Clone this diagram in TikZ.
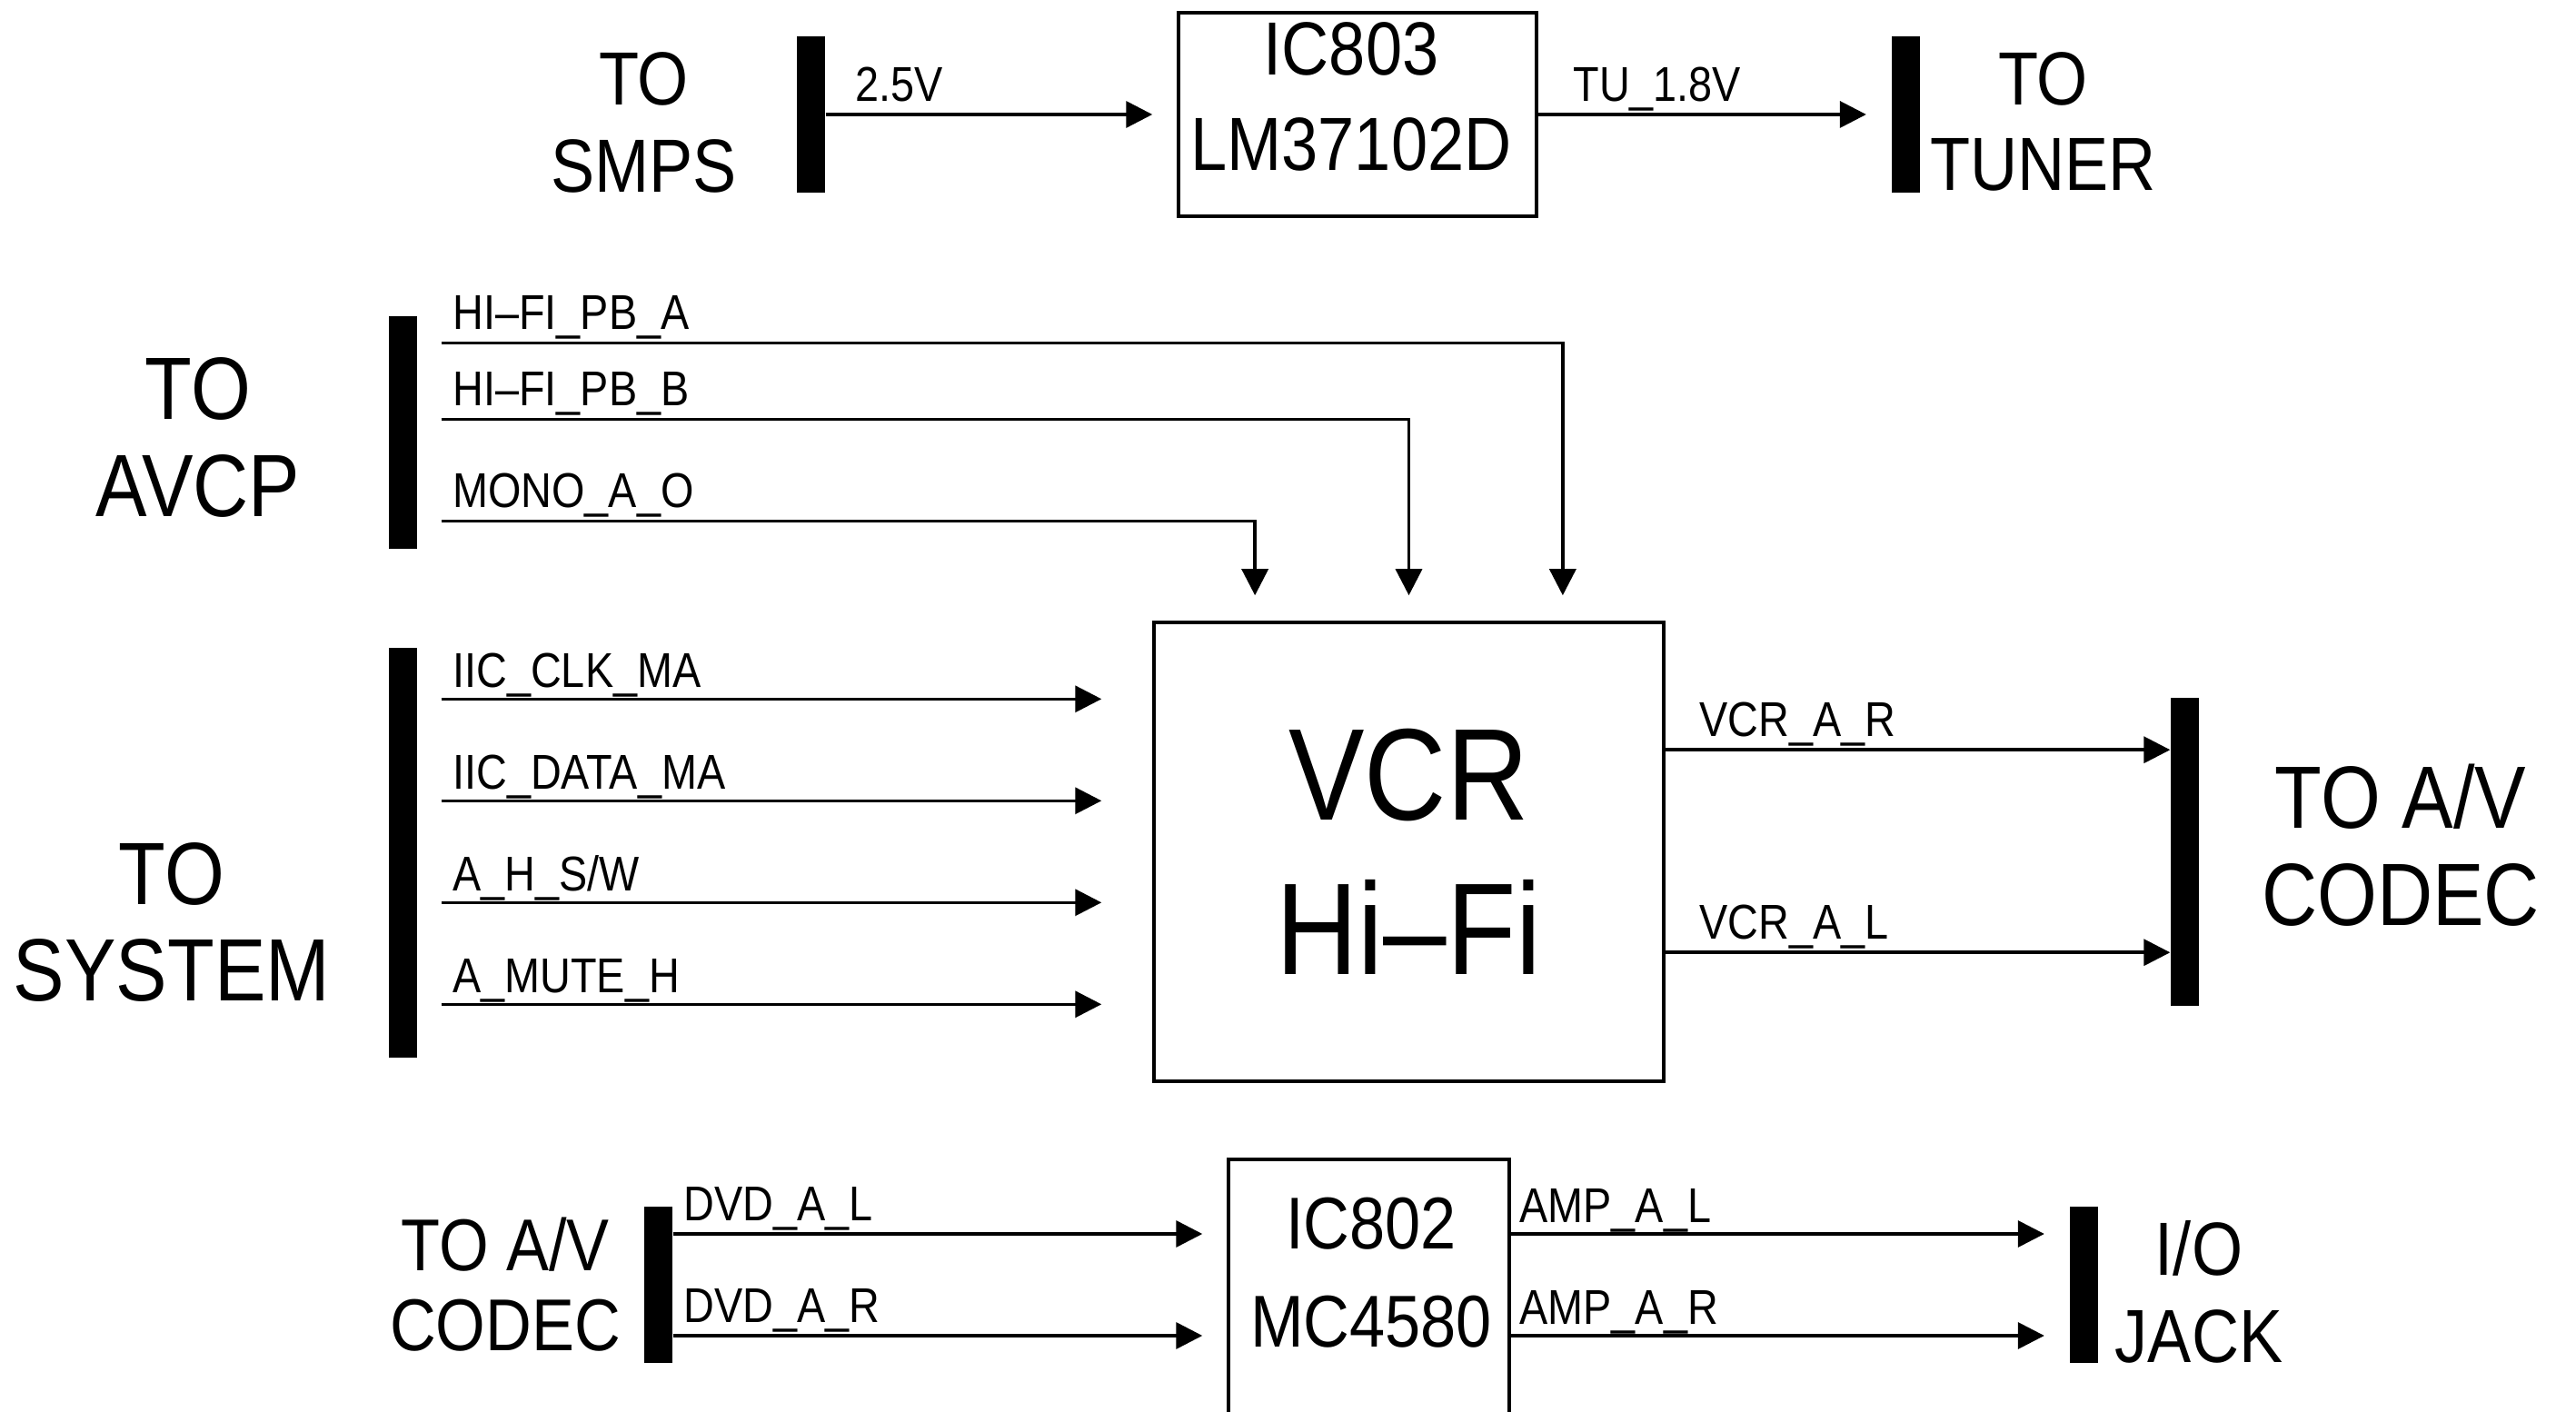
\documentclass[tikz,border=0pt]{standalone}
\usepackage{fontspec}
\setmainfont{Liberation Sans}[FakeStretch=0.87]
\usepackage{tikz}
\usetikzlibrary{arrows.meta,positioning,calc}

\begin{document}
\begin{tikzpicture}[
    bar/.style={fill=black, inner sep=0pt, minimum width=0.31cm},
    chip/.style={draw, line width=1pt, inner sep=0pt},
    sig/.style={line width=1pt, -{Triangle[length=0.29cm, width=0.29cm]}},
    pin/.style={font=\fontsize{15.3}{18}\selectfont, inner sep=0pt, anchor=base west},
    port/.style 2 args={font=\fontsize{#1}{#2}\selectfont, align=center, inner sep=0pt}]
    \useasboundingbox (0,0) rectangle (28.35,15.53);
    \clip (0,0) rectangle (28.35,15.53);

    \node[bar, minimum height=1.72cm] (smps) at (8.925,14.27) {};
    \node[chip, minimum width=3.94cm, minimum height=2.24cm] (ic803) at (14.94,14.27) {};
    \node[bar, minimum height=1.72cm] (tuner) at (20.97,14.27) {};
    \node[port={23.6}{27.5}] (smpstxt) at (7.085,14.18) {TO\\SMPS};
    \node[port={23.6}{30.1}] (ic803txt) at (14.87,14.465) {IC803\\LM37102D};
    \node[port={23.6}{27}] (tunertxt) at (22.485,14.19) {TO\\TUNER};

    \node[bar, minimum height=2.56cm] (avcp) at (4.435,10.77) {};
    \node[bar, minimum height=4.51cm] (sys) at (4.435,6.145) {};
    \node[chip, port={40.9}{48.2}, minimum width=5.61cm, minimum height=5.05cm] (vcr) at (15.505,6.155) {VCR\\Hi–Fi};
    \node[bar, minimum height=3.39cm] (cod) at (24.045,6.155) {};
    \node[port={27.7}{30.4}] (avcptxt) at (2.18,10.715) {TO\\AVCP};
    \node[port={27.7}{30.4}] (systxt) at (1.89,5.38) {TO\\SYSTEM};
    \node[port={27.7}{30.4}] (codtxt) at (26.42,6.23) {TO A/V\\CODEC};

    \node[bar, minimum height=1.72cm] (dvd) at (7.245,1.39) {};
    \node[chip, anchor=north, minimum width=3.09cm, minimum height=3.5cm] (ic802) at (15.065,2.79) {};
    \node[bar, minimum height=1.72cm] (jack) at (22.93,1.39) {};
    \node[port={23}{25}] (dvdtxt) at (5.56,1.39) {TO A/V\\CODEC};
    \node[port={23}{30.7}] (ic802txt) at (15.09,1.525) {IC802\\MC4580};
    \node[port={23.6}{27.5}] (jacktxt) at (24.20,1.31) {I/O\\JACK};

    \draw[sig, shorten >=0.27cm] (smps.east) -- (smps.east -| ic803.west);
    \draw[sig, shorten >=0.27cm] (ic803.east) -- (ic803.east -| tuner.west);
    \node[pin] (v25) at ([xshift=0.32cm, yshift=0.14cm]smps.east) {2.5V};
    \node[pin] (tu18) at ([xshift=0.38cm, yshift=0.14cm]ic803.east) {TU\_1.8V};

    \coordinate (pba) at ([yshift=-0.30cm]avcp.north east);
    \coordinate (pbb) at ([yshift=-1.14cm]avcp.north east);
    \coordinate (mono) at ([yshift=-2.26cm]avcp.north east);
    \draw[sig, shorten <=0.26cm, shorten >=0.28cm] (pba) -| ($(vcr.north west)!0.8!(vcr.north east)$);
    \draw[sig, shorten <=0.26cm, shorten >=0.28cm] (pbb) -| (vcr.north);
    \draw[sig, shorten <=0.26cm, shorten >=0.28cm] (mono) -| ($(vcr.north west)!0.2!(vcr.north east)$);
    \node[pin] (pbatxt) at ([xshift=0.38cm, yshift=0.15cm]pba) {HI–FI\_PB\_A};
    \node[pin] (pbbtxt) at ([xshift=0.38cm, yshift=0.15cm]pbb) {HI–FI\_PB\_B};
    \node[pin] (monotxt) at ([xshift=0.38cm, yshift=0.15cm]mono) {MONO\_A\_O};

    \coordinate (clk) at ([yshift=-0.57cm]sys.north east);
    \coordinate (dat) at ([yshift=-1.69cm]sys.north east);
    \coordinate (hsw) at ([yshift=-2.81cm]sys.north east);
    \coordinate (mute) at ([yshift=-3.93cm]sys.north east);
    \draw[sig, shorten <=0.26cm, shorten >=0.56cm] (clk) -- (clk -| vcr.west);
    \draw[sig, shorten <=0.26cm, shorten >=0.56cm] (dat) -- (dat -| vcr.west);
    \draw[sig, shorten <=0.26cm, shorten >=0.56cm] (hsw) -- (hsw -| vcr.west);
    \draw[sig, shorten <=0.26cm, shorten >=0.56cm] (mute) -- (mute -| vcr.west);
    \node[pin] (clktxt) at ([xshift=0.38cm, yshift=0.13cm]clk) {IIC\_CLK\_MA};
    \node[pin] (dattxt) at ([xshift=0.38cm, yshift=0.13cm]dat) {IIC\_DATA\_MA};
    \node[pin] (hswtxt) at ([xshift=0.38cm, yshift=0.13cm]hsw) {A\_H\_S/W};
    \node[pin] (mutetxt) at ([xshift=0.38cm, yshift=0.13cm]mute) {A\_MUTE\_H};

    \coordinate (var) at ([yshift=-1.42cm]vcr.north east);
    \coordinate (val) at ([yshift=-3.65cm]vcr.north east);
    \draw[sig] (var) -- (var -| cod.west);
    \draw[sig] (val) -- (val -| cod.west);
    \node[pin] (vartxt) at ([xshift=0.37cm, yshift=0.15cm]var) {VCR\_A\_R};
    \node[pin] (valtxt) at ([xshift=0.37cm, yshift=0.15cm]val) {VCR\_A\_L};

    \coordinate (dal) at ([yshift=0.56cm]dvd.east);
    \coordinate (dar) at ([yshift=-0.56cm]dvd.east);
    \coordinate (aal) at (ic802.east |- dal);
    \coordinate (aar) at (ic802.east |- dar);
    \draw[sig, shorten >=0.27cm] (dal) -- (dal -| ic802.west);
    \draw[sig, shorten >=0.27cm] (dar) -- (dar -| ic802.west);
    \draw[sig, shorten >=0.27cm] (aal) -- (aal -| jack.west);
    \draw[sig, shorten >=0.27cm] (aar) -- (aar -| jack.west);
    \node[pin] (daltxt) at ([xshift=0.11cm, yshift=0.15cm]dal) {DVD\_A\_L};
    \node[pin] (dartxt) at ([xshift=0.11cm, yshift=0.15cm]dar) {DVD\_A\_R};
    \node[pin] (aaltxt) at ([xshift=0.09cm, yshift=0.13cm]aal) {AMP\_A\_L};
    \node[pin] (aartxt) at ([xshift=0.09cm, yshift=0.13cm]aar) {AMP\_A\_R};
\end{tikzpicture}
\end{document}
